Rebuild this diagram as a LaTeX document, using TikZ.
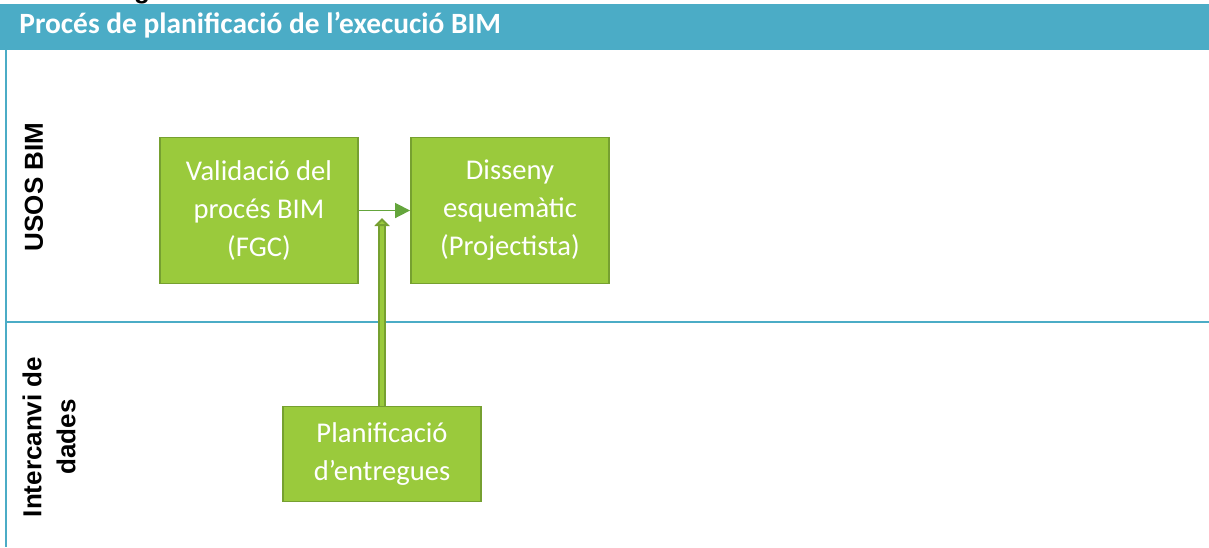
\documentclass[tikz,border=0pt]{standalone}
\usepackage{fontspec}
\setmainfont{Carlito}
\newfontfamily\lanefont{Liberation Sans}
\usetikzlibrary{positioning}
\usetikzlibrary{arrows.meta}
\definecolor{hb}{RGB}{75, 172, 198}
\definecolor{gf}{RGB}{154, 202, 60}
\definecolor{gd}{RGB}{118, 160, 48}
\definecolor{ga}{RGB}{100, 165, 60}

\begin{document}
\begin{tikzpicture}
			[x=0.5pt, y=-0.5pt, every node/.style={inner sep=0pt},
			task/.style={rectangle, fill=gf, draw=gd, line width=0.9pt, text=white, align=center, minimum width=99pt, font=\fontsize{14.3}{19}\selectfont},
			lane/.style={rotate=90, align=center, font=\lanefont\bfseries\fontsize{13}{17}\selectfont},
			sep/.style={draw=hb, line width=1pt}]
			\useasboundingbox (0, 0) rectangle (1209, 547);
			\begin{scope}
				\clip (0, 0) rectangle (1209, 547);
				\node (cut) [anchor=base, font=\lanefont\bfseries\fontsize{13}{15}\selectfont] at (142, -2) {g};
			\end{scope}
			\fill [hb] (0, 4) rectangle (1209, 50);
			\node (head) [anchor=base west, text=white, font=\bfseries\fontsize{14.7}{17}\selectfont] at (19, 33) {Procés de planificació de l’execució BIM};
			\draw [sep] (6, 50) -- (6, 547);
			\draw [sep] (6, 322) -- (1209, 322);
			\node (usos) [lane] at (34, 187) {USOS BIM};
			\node (inter) [lane] at (49, 437) {Intercanvi de\\dades};
			\node (val) [task, minimum height=73pt] at (259, 210.5) {Validació del\\procés BIM\\(FGC)};
			\node (dis) [task, minimum height=73pt] at (510, 210.5) {Disseny\\esquemàtic\\(Projectista)};
			\node (pla) [task, minimum height=47.5pt] at (382, 454) {Planificació\\d’entregues};
			\coordinate (tip) at (382, 218);
			\draw [draw=ga, line width=0.8pt, -{Triangle[length=7.5pt, width=7.5pt]}] (val.east) -- (dis.west);
			\draw [draw=gd, double=gf, double distance=2pt, line width=1pt, -{Triangle[length=4pt, width=7.5pt, fill=gf]}] (pla) -- (tip);
	\end{tikzpicture}
\end{document}
